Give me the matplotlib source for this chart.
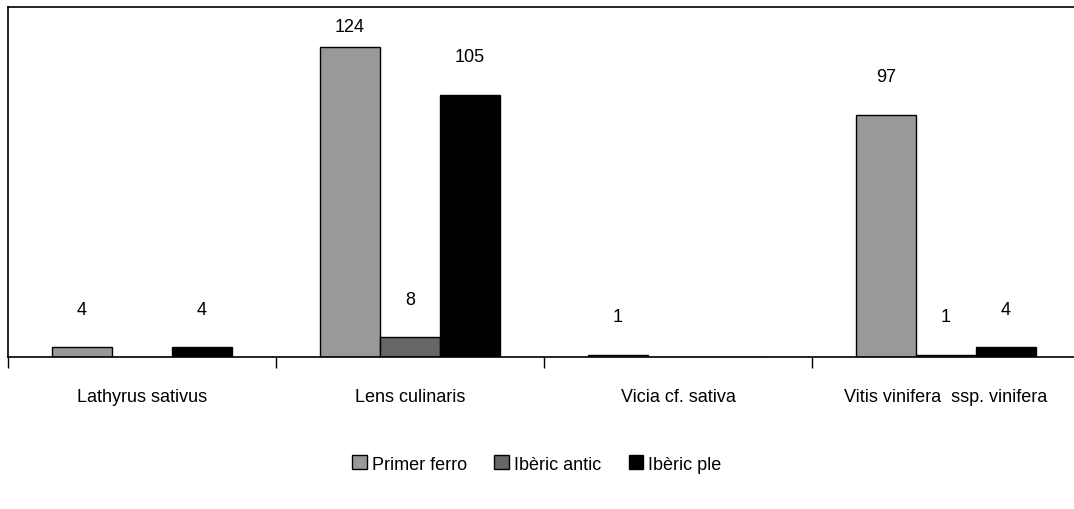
import matplotlib.pyplot as plt
import numpy as np

categories = ["Lathyrus sativus", "Lens culinaris", "Vicia cf. sativa", "Vitis vinifera  ssp. vinifera"]
series = ["Primer ferro", "Ibèric antic", "Ibèric ple"]
primer_ferro = [4, 124, 1, 97]
iberic_antic = [0, 8, 0, 1]
iberic_ple = [4, 105, 0, 4]

colors = ["#999999", "#666666", "#000000"]

plt.rcParams['font.family'] = ['Liberation Sans', 'DejaVu Sans']

fig = plt.figure(figsize=(10.74, 5.10), dpi=100)
# plot area runs past the right edge of the picture, as in the original
ax = fig.add_axes([8/1074, 1 - 358/510, 1072/1074, 350/510])

x = np.arange(len(categories))
w = 60/268.0
for i, (name, vals) in enumerate(zip(series, [primer_ferro, iberic_antic, iberic_ple])):
    pos = x + (i - 1) * w
    ax.bar(pos, vals, w, color=colors[i], edgecolor="black", linewidth=1, label=name)
    for p, v in zip(pos, vals):
        if v > 0:
            ax.text(p, min(v + 15, 132), str(v), ha="center", va="center", fontsize=13)

ax.set_xlim(-0.5, len(categories) - 0.5)
ax.set_ylim(0, 140)
ax.set_yticks([])
ax.set_xticks(x)
ax.set_xticklabels(categories, fontsize=13)
ax.tick_params(axis="x", which="major", length=0, pad=22)
ax.set_xticks(np.arange(len(categories)) - 0.5, minor=True)
ax.tick_params(axis="x", which="minor", length=8, width=1, direction="out")
for s in ax.spines.values():
    s.set_linewidth(1.2)

fig.legend(loc="center", bbox_to_anchor=(0.5, 1 - 465/510), ncol=3, frameon=False,
           fontsize=13, handlelength=0.8, handleheight=0.8, handletextpad=0.3, columnspacing=1.5)

fig.savefig("out.png", dpi=100)
